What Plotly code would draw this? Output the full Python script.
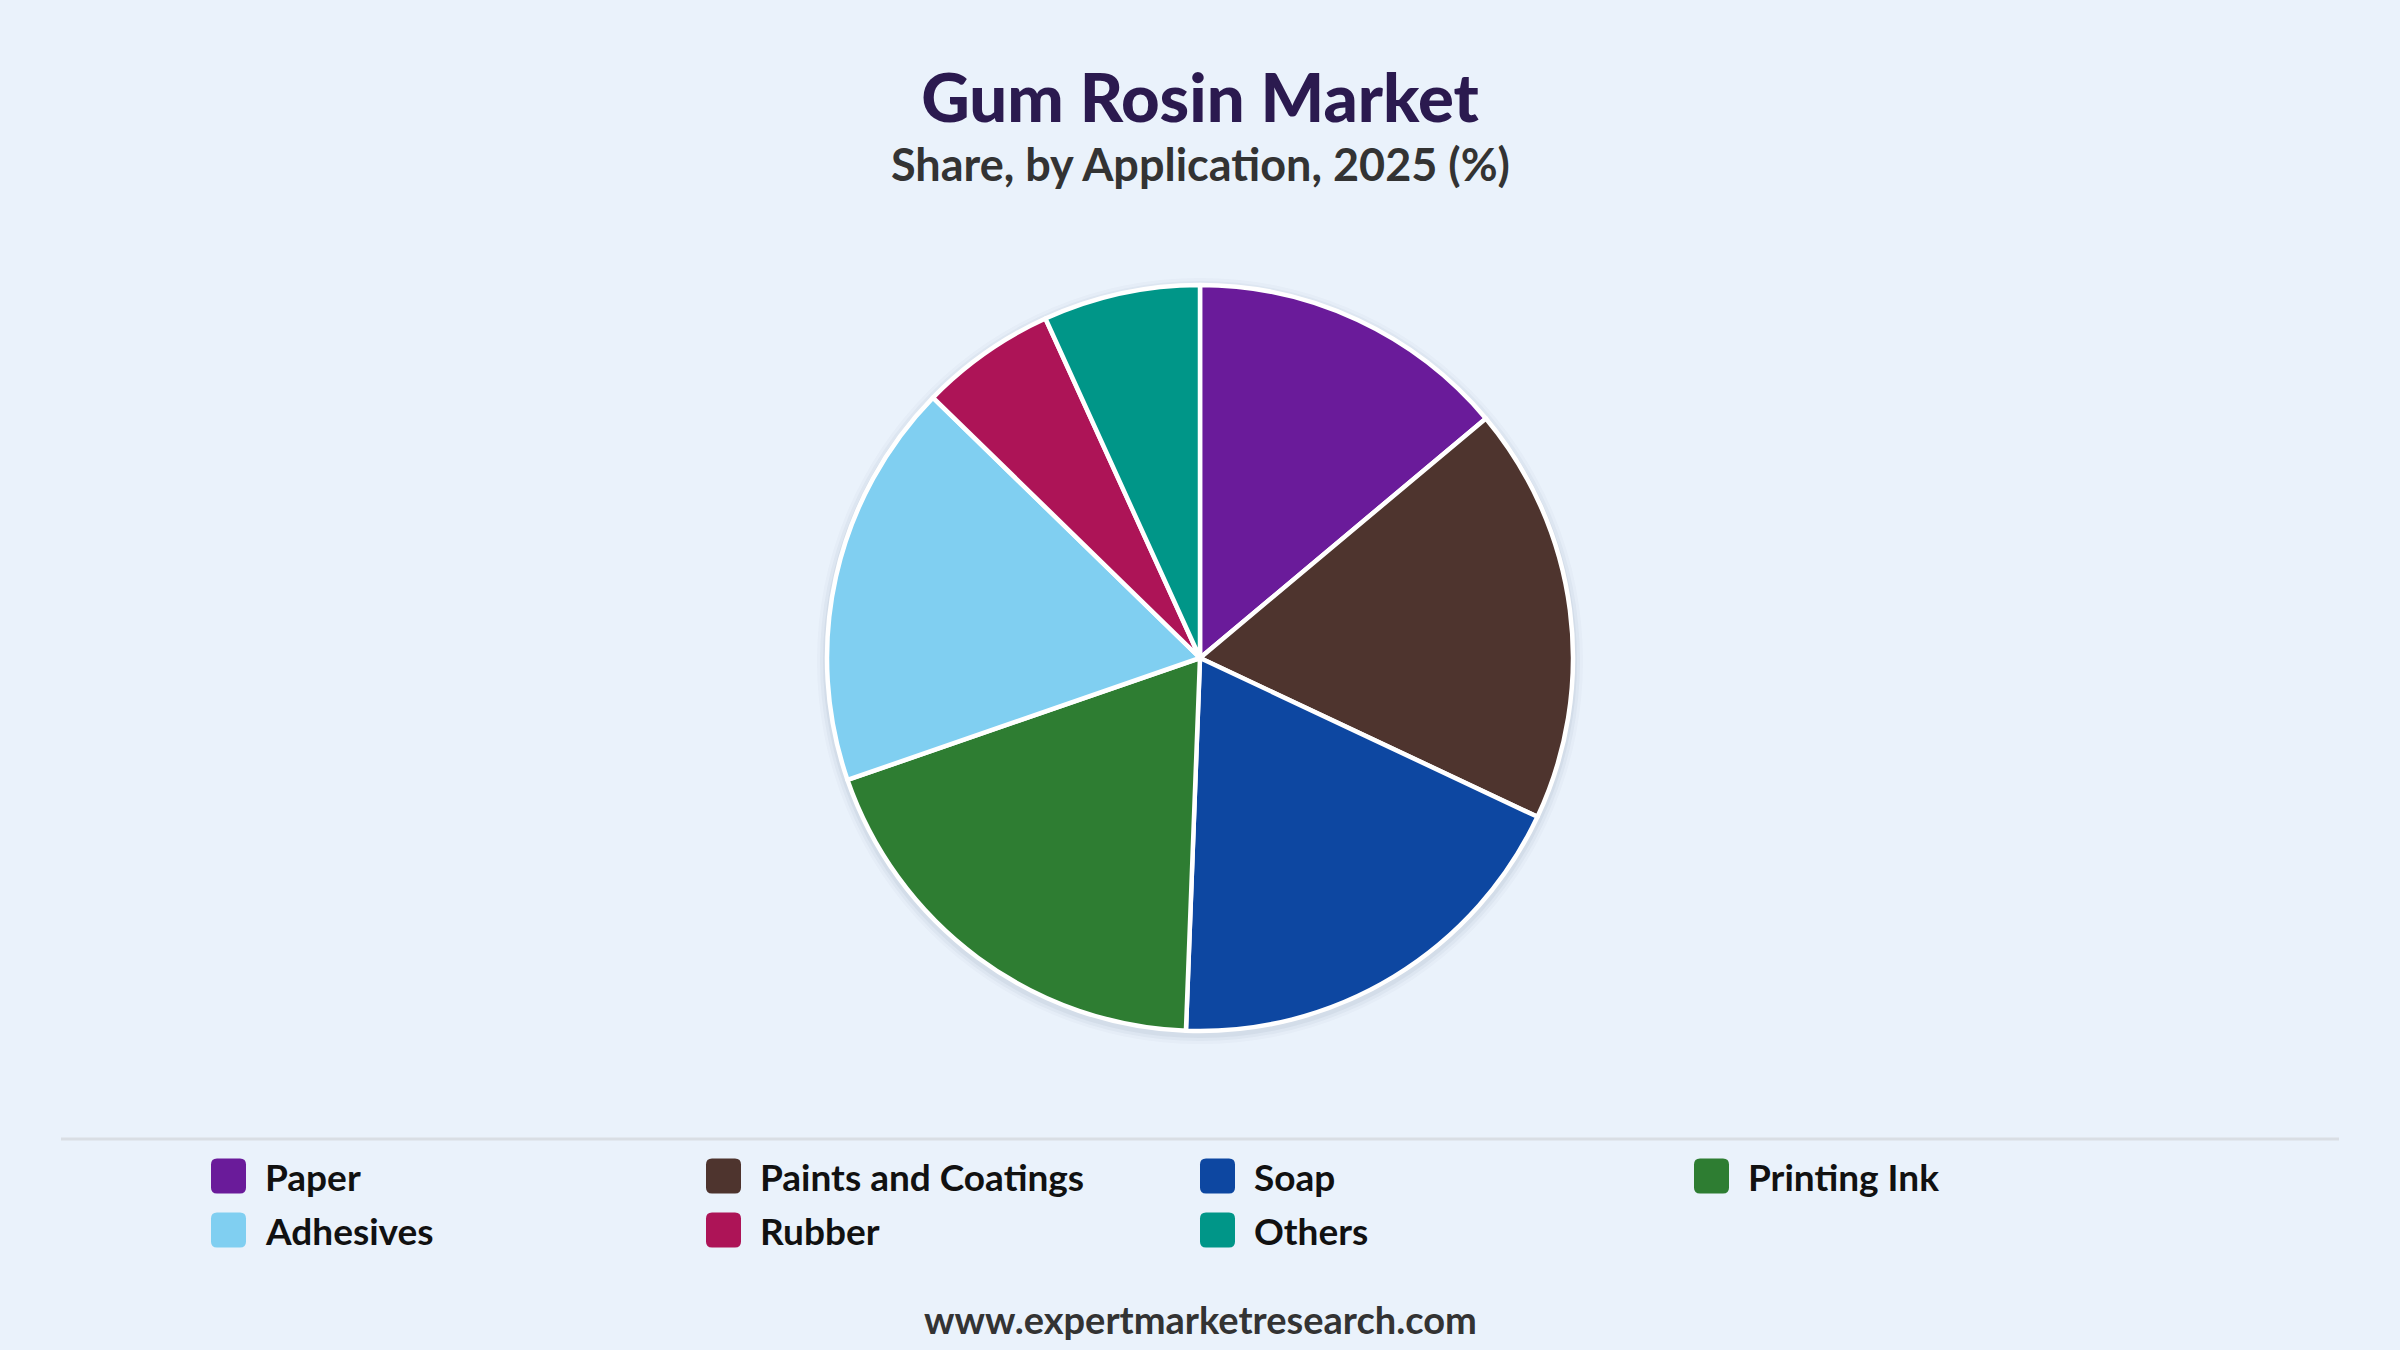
import plotly.graph_objects as go

# Данные
applications = ["Paper", "Paints and Coatings", "Soap", "Printing Ink", "Adhesives", "Rubber", "Others"]
shares = [13.9, 18.1, 18.6, 19.1, 17.6, 5.9, 6.8]
colors = ["#6A1B9A", "#4E342E", "#0D47A1", "#2E7D32", "#80CFF1", "#AD1457", "#009688"]

W, H = 2400, 1350
BG = "#EAF2FB"
FONT = "Lato, sans-serif"


def py(pix):
    # пиксели сверху -> доля paper снизу
    return 1 - pix / H


def px(pix):
    return pix / W


fig = go.Figure()

fig.add_trace(go.Pie(
    labels=applications,
    values=shares,
    marker=dict(colors=colors, line=dict(color="white", width=4.5)),
    sort=False,
    direction="clockwise",
    rotation=0,
    textinfo="none",
    hoverinfo="label+percent",
    domain=dict(x=[0, 1], y=[py(1031), py(285)]),
    showlegend=False,
))

shapes = []
annotations = []

# Лёгкая тень под кругом
cx, cy, r = 1200, 658, 373
for k, a in [(10, 0.025), (7, 0.035), (4, 0.05)]:
    shapes.append(dict(type="circle", xref="paper", yref="paper", layer="below",
                       x0=px(cx - r - k), x1=px(cx + r + k),
                       y0=py(cy + 3 + r + k), y1=py(cy + 3 - r - k),
                       fillcolor=f"rgba(40,60,90,{a})", line=dict(width=0)))

# Разделительная линия над легендой
shapes.append(dict(type="line", xref="paper", yref="paper",
                   x0=px(61), x1=px(2339), y0=py(1139), y1=py(1139),
                   line=dict(color="#D9DEE4", width=3)))

# Легенда вручную (крупные скруглённые квадраты)
col_x = [211, 706, 1200, 1694]
row_y = [1176, 1230]
sz, rad = 35, 6
for i, (lab, col) in enumerate(zip(applications, colors)):
    x0 = col_x[i % 4]
    yc = row_y[i // 4]
    y0, y1 = yc - sz / 2, yc + sz / 2
    x1 = x0 + sz
    path = (f"M {px(x0 + rad)},{py(y0)} L {px(x1 - rad)},{py(y0)} "
            f"Q {px(x1)},{py(y0)} {px(x1)},{py(y0 + rad)} "
            f"L {px(x1)},{py(y1 - rad)} Q {px(x1)},{py(y1)} {px(x1 - rad)},{py(y1)} "
            f"L {px(x0 + rad)},{py(y1)} Q {px(x0)},{py(y1)} {px(x0)},{py(y1 - rad)} "
            f"L {px(x0)},{py(y0 + rad)} Q {px(x0)},{py(y0)} {px(x0 + rad)},{py(y0)} Z")
    shapes.append(dict(type="path", xref="paper", yref="paper", path=path,
                       fillcolor=col, line=dict(width=0)))
    annotations.append(dict(text=f"<b>{lab}</b>", xref="paper", yref="paper",
                            x=px(x0 + 52), y=py(yc), xanchor="left", yanchor="middle",
                            showarrow=False, font=dict(family=FONT, size=37, color="#111111")))

# Подзаголовок
annotations.append(dict(text="<b>Share, by Application, 2025 (%)</b>", xref="paper", yref="paper",
                        x=0.5, y=py(164), xanchor="center", yanchor="middle", showarrow=False,
                        font=dict(family=FONT, size=45, color="#333333")))

# Источник
annotations.append(dict(text="<b>www.expertmarketresearch.com</b>", xref="paper", yref="paper",
                        x=0.5, y=py(1319), xanchor="center", yanchor="middle", showarrow=False,
                        font=dict(family=FONT, size=38, color="#333333")))

fig.update_layout(
    width=W,
    height=H,
    paper_bgcolor=BG,
    plot_bgcolor=BG,
    margin=dict(l=0, r=0, t=0, b=0),
    title=dict(text="Gum Rosin Market", x=0.5, xanchor="center",
               y=py(99), yanchor="middle", yref="container",
               font=dict(family=FONT, size=67, color="#2B1A4F", weight=900)),
    shapes=shapes,
    annotations=annotations,
    showlegend=False,
)

# убрать отступы страницы, чтобы график занимал окно целиком
fig.write_html("out.html", config={"displayModeBar": False},
               post_script="document.body.style.margin='0';document.body.style.background='#EAF2FB';")
